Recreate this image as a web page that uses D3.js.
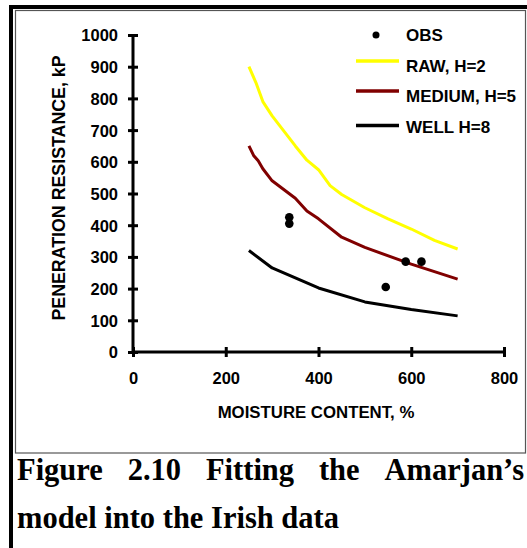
<!DOCTYPE html>
<html>
<head>
<meta charset="utf-8">
<script src="https://cdn.jsdelivr.net/npm/d3@7"></script>
<style>
  html, body { margin: 0; padding: 0; background: #fff; }
  svg { display: block; }
  .sans { font-family: "Liberation Sans", Arial, sans-serif; font-weight: bold; }
  .serif { font-family: "Liberation Serif", "Times New Roman", serif; font-weight: bold; }
</style>
</head>
<body>
<svg id="chart" width="527" height="548"></svg>
<script>
// Moisture content (%) vs penetration resistance (kP)
const xTicks = [0, 200, 400, 600, 800];
const yTicks = [0, 100, 200, 300, 400, 500, 600, 700, 800, 900, 1000];

const obsMoisture = [337, 337, 545, 588, 622];
const obsResistance = [425, 405, 205, 285, 285];

const rawMoisture = [250, 265, 280, 300, 350, 375, 400, 425, 450, 500, 550, 600, 650, 700];
const rawResistance = [900, 850, 790, 745, 650, 605, 575, 525, 497, 455, 420, 388, 352, 325];

const mediumMoisture = [250, 260, 270, 280, 300, 350, 375, 400, 450, 500, 600, 700];
const mediumResistance = [650, 620, 603, 578, 540, 485, 445, 420, 362, 330, 277, 230];

const wellMoisture = [250, 300, 400, 500, 600, 700];
const wellResistance = [320, 265, 202, 158, 134, 114];

const seriesNames = ["OBS", "RAW, H=2", "MEDIUM, H=5", "WELL H=8"];
const seriesColors = ["#000000", "#ffff00", "#800000", "#000000"];

const xTitle = "MOISTURE CONTENT, %";
const yTitle = "PENERATION RESISTANCE, kP";
const captionLine1 = ["Figure", "2.10", "Fitting", "the", "Amarjan\u2019s"];
const captionLine2 = "model into the Irish data";

const svg = d3.select("#chart");

// page frame: heavy rule on top and left, thin box round the chart
svg.append("rect").attr("x", 9).attr("y", 5).attr("width", 518).attr("height", 4).attr("fill", "#000");
svg.append("rect").attr("x", 9).attr("y", 5).attr("width", 4).attr("height", 543).attr("fill", "#000");
svg.append("rect").attr("x", 15.5).attr("y", 10.5).attr("width", 510).attr("height", 442.5)
  .attr("fill", "none").attr("stroke", "#555").attr("stroke-width", 1.2);

const x = d3.scaleLinear().domain([0, 800]).range([133, 504]);
const y = d3.scaleLinear().domain([0, 1000]).range([352, 35]);

// axes with crossing ticks
const gx = svg.append("g").attr("transform", `translate(0,${y(0)})`)
  .call(d3.axisBottom(x).tickValues(xTicks).tickFormat(d3.format("d")).tickSize(5).tickSizeOuter(0));
gx.select(".domain").attr("stroke", "#000").attr("stroke-width", 3).attr("d", `M${x(0)},0H${x(800)}`);
gx.selectAll(".tick line").attr("y1", -5).attr("y2", 5).attr("stroke-width", 3);
gx.selectAll(".tick text").attr("class", "sans").attr("font-size", 16.5).attr("y", 0).attr("dy", 32).attr("fill", "#000");

const gy = svg.append("g").attr("transform", `translate(${x(0)},0)`)
  .call(d3.axisLeft(y).tickValues(yTicks).tickFormat(d3.format("d")).tickSize(5).tickSizeOuter(0));
gy.select(".domain").attr("stroke", "#000").attr("stroke-width", 3).attr("d", `M0,${y(0)}V${y(1000)}`);
gy.selectAll(".tick line").attr("x1", 5).attr("x2", -5).attr("stroke-width", 3);
gy.selectAll(".tick text").attr("class", "sans").attr("font-size", 16.5).attr("x", -15).attr("dy", "0.36em").attr("fill", "#000");
svg.selectAll(".tick text").attr("font-family", null);
gx.attr("font-family", null).attr("font-size", null);
gy.attr("font-family", null).attr("font-size", null);

// axis titles
svg.append("text").attr("class", "sans").attr("font-size", 16.8)
  .attr("x", 316).attr("y", 418).attr("text-anchor", "middle").text(xTitle);
svg.append("text").attr("class", "sans").attr("font-size", 17.8)
  .attr("transform", "translate(65,188) rotate(-90)").attr("text-anchor", "middle").text(yTitle);

// model curves
const line = d3.line().x(d => x(d[0])).y(d => y(d[1]));
const curves = [
  [rawMoisture, rawResistance, seriesColors[1]],
  [mediumMoisture, mediumResistance, seriesColors[2]],
  [wellMoisture, wellResistance, seriesColors[3]]
];
curves.forEach(([mx, ry, c]) => {
  svg.append("path").datum(d3.zip(mx, ry)).attr("d", line)
    .attr("fill", "none").attr("stroke", c).attr("stroke-width", 3).attr("stroke-linejoin", "round");
});

// observations
svg.append("g").selectAll("circle").data(d3.zip(obsMoisture, obsResistance)).join("circle")
  .attr("cx", d => x(d[0])).attr("cy", d => y(d[1])).attr("r", 4.3).attr("fill", "#000");

// legend
const legend = svg.append("g");
const legendRows = [35, 61, 91, 125.5];
legend.append("circle").attr("cx", 376).attr("cy", legendRows[0]).attr("r", 3.5).attr("fill", seriesColors[0]);
for (let i = 1; i < 4; i++) {
  legend.append("line").attr("x1", 356).attr("x2", 399).attr("y1", legendRows[i]).attr("y2", legendRows[i])
    .attr("stroke", seriesColors[i]).attr("stroke-width", 3.5);
}
const labelBase = [40.5, 71.5, 101.5, 132.5];
seriesNames.forEach((n, i) => {
  legend.append("text").attr("class", "sans").attr("font-size", 17)
    .attr("x", 406).attr("y", labelBase[i]).text(n);
});

// caption, first line justified across the box
const cap1 = svg.append("g");
const words = cap1.selectAll("text").data(captionLine1).join("text")
  .attr("class", "serif").attr("font-size", 30.5).attr("y", 480).text(d => d);
const widths = [];
words.each(function () { widths.push(this.getComputedTextLength()); });
const left = 17, right = 524;
const gap = (right - left - d3.sum(widths)) / (widths.length - 1);
let cx = left;
words.each(function (d, i) { d3.select(this).attr("x", cx); cx += widths[i] + gap; });

svg.append("text").attr("class", "serif").attr("font-size", 30.5)
  .attr("x", 17).attr("y", 528).text(captionLine2);
</script>
</body>
</html>
